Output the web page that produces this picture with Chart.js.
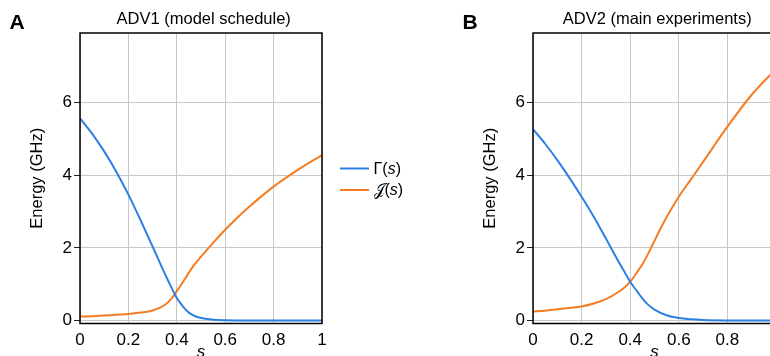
<!DOCTYPE html>
<html><head><meta charset="utf-8">
<script src="https://cdn.jsdelivr.net/npm/chart.js@4.4.1/dist/chart.umd.min.js"></script>
<style>
html,body{margin:0;padding:0;background:#fff;width:770px;height:356px;overflow:hidden;}
#wrap{position:relative;width:770px;height:356px;overflow:hidden;background:#fff;}
canvas{position:absolute;top:0;}
#cA{left:0;}
#cB{left:453px;}
</style></head><body>
<div id="wrap"><canvas id="cA" width="440" height="400"></canvas><canvas id="cB" width="440" height="400"></canvas></div>
<script>
// ---- data ----
const sValues = [0, 0.05, 0.1, 0.15, 0.2, 0.25, 0.3, 0.35, 0.38, 0.4, 0.43, 0.45, 0.47, 0.5, 0.55, 0.6, 0.65, 0.7, 0.8, 0.9, 1.0];
const gammaA  = [5.57, 5.15, 4.66, 4.10, 3.47, 2.77, 2.04, 1.30, 0.88, 0.62, 0.35, 0.22, 0.14, 0.07, 0.025, 0.008, 0.002, 0, 0, 0, 0];
const jA      = [0.11, 0.12, 0.14, 0.16, 0.18, 0.22, 0.28, 0.43, 0.62, 0.81, 1.11, 1.32, 1.52, 1.76, 2.14, 2.50, 2.83, 3.14, 3.69, 4.15, 4.56];
const gammaB  = [5.27, 4.87, 4.42, 3.93, 3.41, 2.86, 2.26, 1.65, 1.30, 1.07, 0.79, 0.61, 0.46, 0.30, 0.146, 0.07, 0.035, 0.017, 0.004, 0.001, 0];
const jB      = [0.25, 0.27, 0.31, 0.35, 0.39, 0.47, 0.59, 0.78, 0.93, 1.07, 1.35, 1.55, 1.79, 2.20, 2.85, 3.41, 3.89, 4.37, 5.34, 6.22, 6.93];
const xTicks = [0, 0.2, 0.4, 0.6, 0.8, 1];
const xTickLabels = ['0', '0.2', '0.4', '0.6', '0.8', '1'];
const yTicks = [0, 2, 4, 6];
const yTickLabels = ['0', '2', '4', '6'];
const panelTitles = ['ADV1 (model schedule)', 'ADV2 (main experiments)'];
const panelLetters = ['A', 'B'];
const seriesNames = ['\u0393', '\uD835\uDCA5'];
const yTitle = 'Energy (GHz)';
const xTitle = 's';

const FF = '"Liberation Sans", Arial, Helvetica, sans-serif';
const BLUE = '#2d80e2';
const ORANGE = '#f47c22';

const deco = {
  id: 'deco',
  afterDatasetsDraw(chart, args, opts) {
    const ctx = chart.ctx, a = chart.chartArea;
    ctx.save();
    ctx.strokeStyle = '#000';
    ctx.lineWidth = 1.5;
    ctx.strokeRect(a.left, a.top, a.right - a.left, a.bottom - a.top);
    ctx.fillStyle = '#000';
    ctx.font = 'bold 21px ' + FF;
    ctx.textAlign = 'left';
    ctx.textBaseline = 'alphabetic';
    ctx.fillText(opts.letter, 9.5, 28.5);
    ctx.font = '16.5px ' + FF;
    ctx.textAlign = 'center';
    ctx.textBaseline = 'middle';
    ctx.fillText(opts.title, (a.left + a.right) / 2 + 2.7, 19.5);
    if (opts.legend) {
      const ys = [168.5, 190];
      chart.data.datasets.forEach((ds, i) => {
        const y = ys[i];
        ctx.strokeStyle = ds.borderColor;
        ctx.lineWidth = 2;
        ctx.beginPath(); ctx.moveTo(340, y); ctx.lineTo(369, y); ctx.stroke();
        ctx.textAlign = 'left';
        ctx.textBaseline = 'middle';
        ctx.fillStyle = '#000';
        let x = 373.5;
        const parts = [[seriesNames[i], 'normal'], ['(', 'normal'], ['s', 'italic'], [')', 'normal']];
        parts.forEach(([t, st]) => {
          ctx.font = (st === 'italic' ? 'italic ' : '') + '16px ' + FF;
          ctx.fillText(t, x, y + 1);
          x += ctx.measureText(t).width;
        });
      });
    }
    ctx.restore();
  }
};

function makeChart(id, gamma, jv, idx, padRight) {
  return new Chart(document.getElementById(id), {
    type: 'line',
    data: {
      datasets: [
        { label: 'Gamma', data: sValues.map((s, i) => ({ x: s, y: gamma[i] })), borderColor: BLUE, borderWidth: 2, pointRadius: 0, fill: false, cubicInterpolationMode: 'monotone' },
        { label: 'J', data: sValues.map((s, i) => ({ x: s, y: jv[i] })), borderColor: ORANGE, borderWidth: 2, pointRadius: 0, fill: false, cubicInterpolationMode: 'monotone' }
      ]
    },
    options: {
      responsive: false,
      animation: false,
      devicePixelRatio: 1,
      layout: { padding: { left: 0, top: 33, right: padRight, bottom: 33.5 } },
      plugins: {
        legend: { display: false },
        tooltip: { enabled: false },
        deco: { letter: panelLetters[idx], title: panelTitles[idx], legend: idx === 0 }
      },
      scales: {
        x: {
          type: 'linear', min: 0, max: 1,
          afterBuildTicks: s => { s.ticks = xTicks.map(v => ({ value: v })); },
          afterFit: s => { s.height = 43; },
          ticks: { callback: v => xTickLabels[xTicks.indexOf(v)], padding: 6.5, maxRotation: 0, autoSkip: false, color: '#000', font: { size: 17, family: FF } },
          grid: { color: '#c8c8c8', lineWidth: 1, drawTicks: false },
          border: { display: false },
          title: { display: true, text: xTitle, color: '#000', font: { size: 17, family: FF, style: 'italic' }, padding: { top: 0, bottom: 4.5 } }
        },
        y: {
          type: 'linear', min: -0.08, max: 7.92,
          afterBuildTicks: s => { s.ticks = yTicks.map(v => ({ value: v })); },
          afterFit: s => { s.width = 80; },
          ticks: { callback: v => yTickLabels[yTicks.indexOf(v)], padding: 2, color: '#000', font: { size: 17, family: FF } },
          grid: { color: '#c8c8c8', lineWidth: 1, drawTicks: true, tickLength: 6, tickColor: '#222', tickWidth: 1 },
          border: { display: false },
          title: { display: true, text: yTitle, color: '#000', font: { size: 16.5, family: FF }, padding: { top: 27.6, bottom: 0 } }
        }
      }
    },
    plugins: [deco]
  });
}
makeChart('cA', gammaA, jA, 0, 118);
makeChart('cB', gammaB, jB, 1, 117);
</script>
</body></html>
